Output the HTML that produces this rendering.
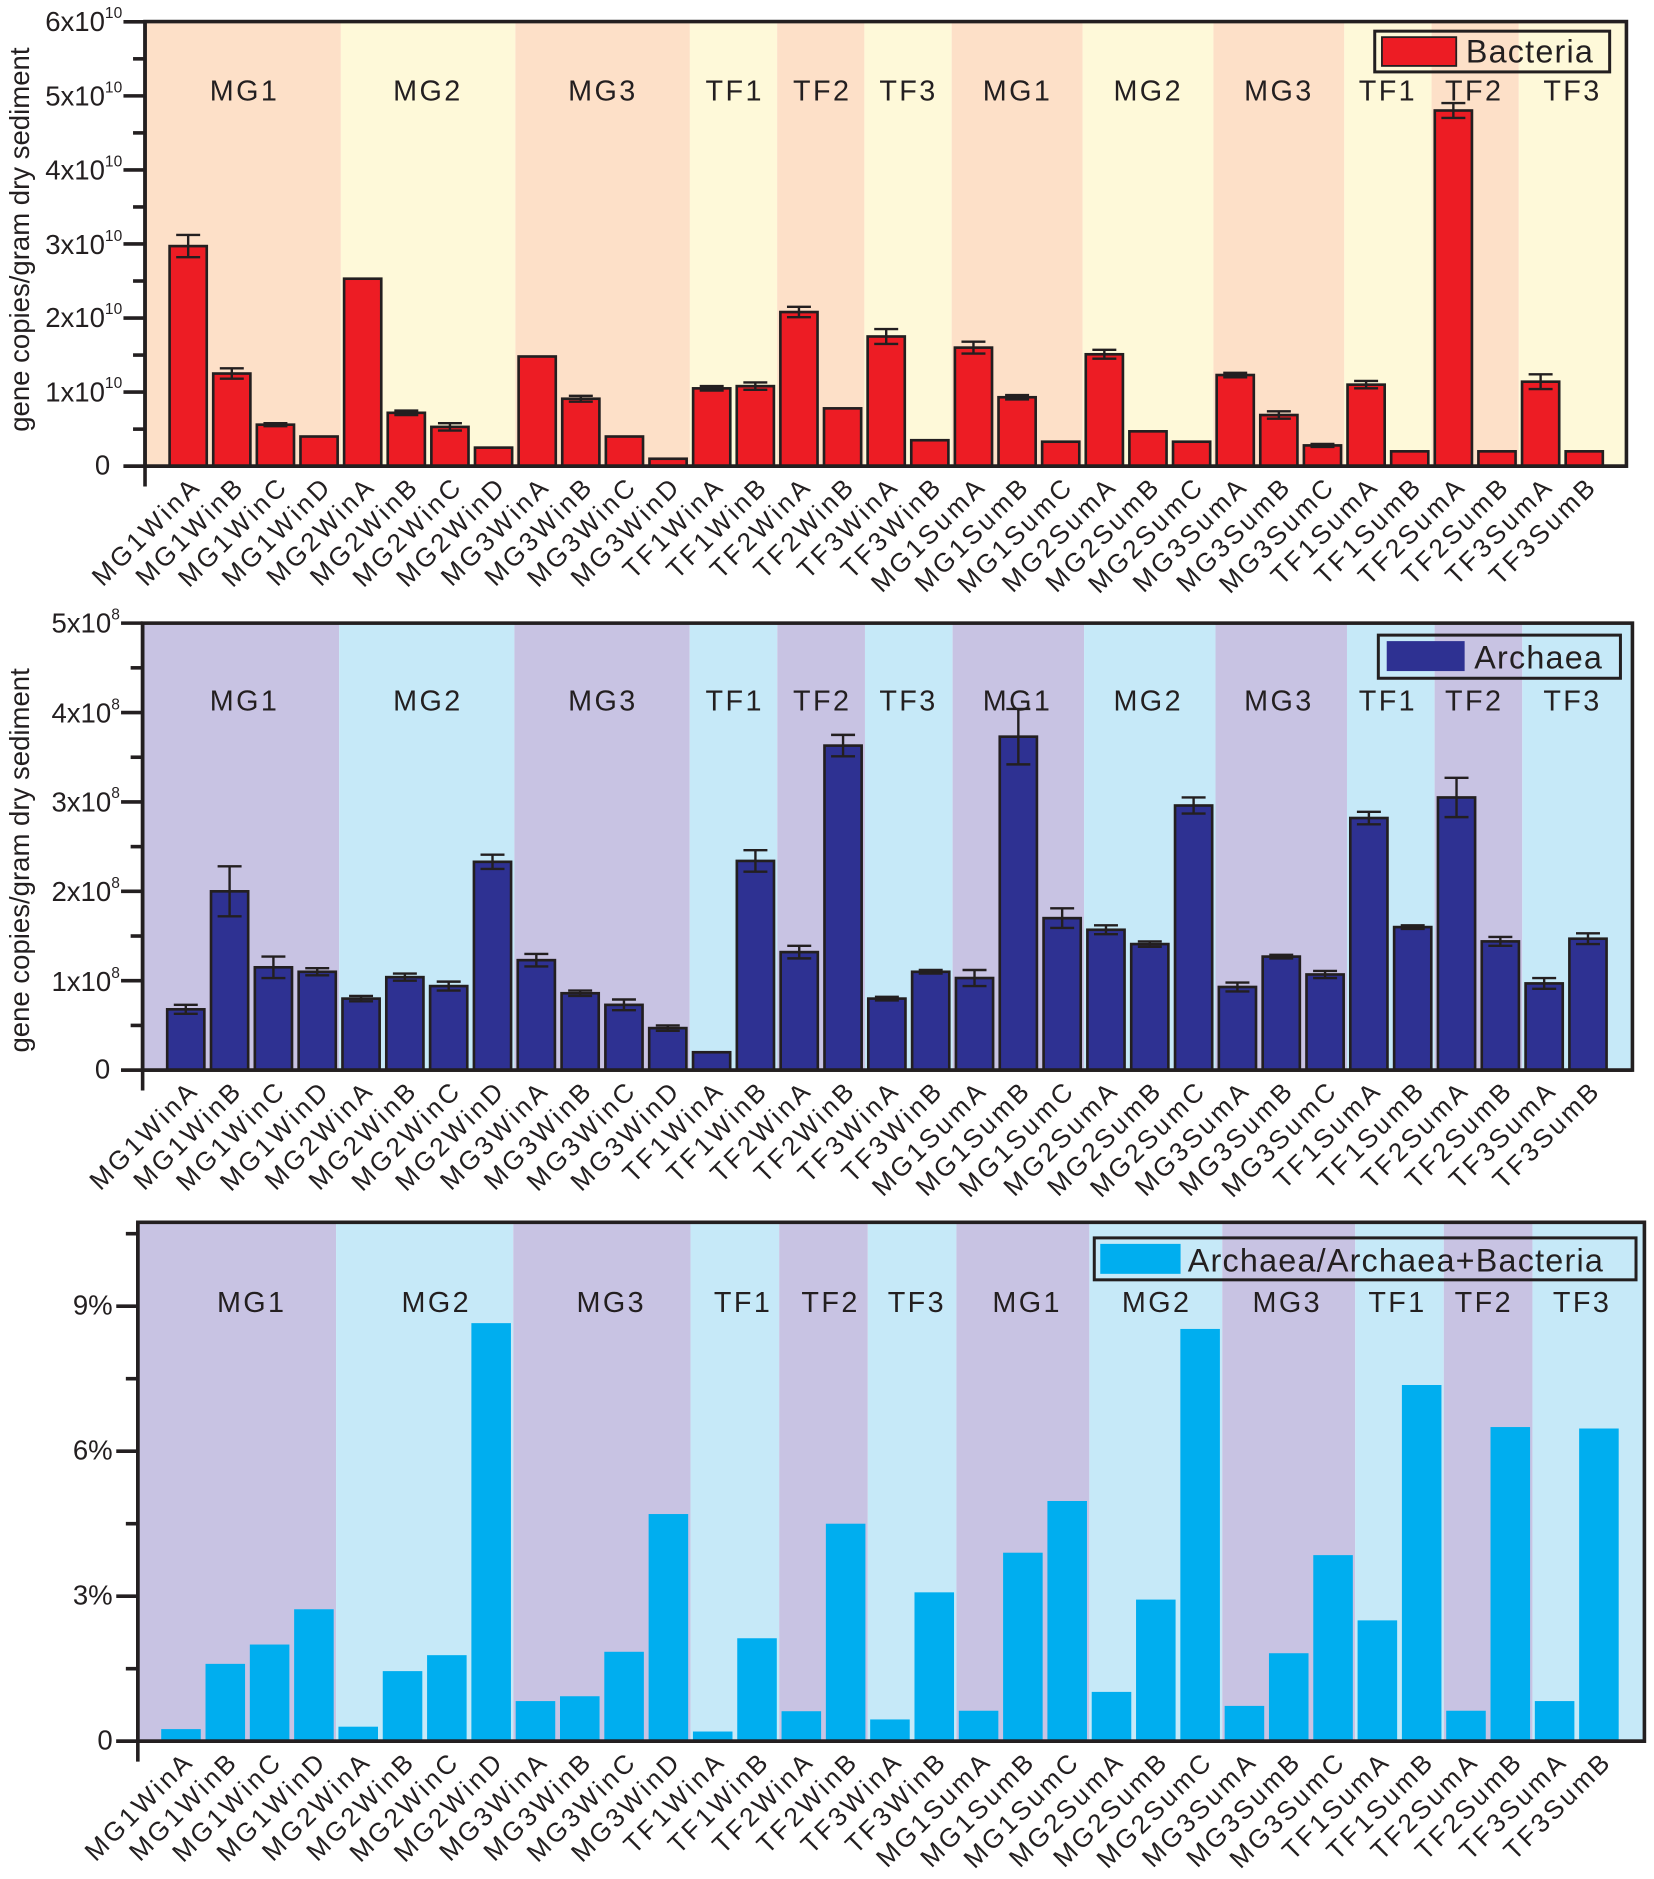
<!DOCTYPE html>
<html><head><meta charset="utf-8"><style>
html,body{margin:0;padding:0;background:#fff}
svg{display:block}
text{font-family:"Liberation Sans",Arial,sans-serif;fill:#231f20}
.g{font-size:24px;letter-spacing:2px;text-anchor:middle}
.x{font-size:22px;letter-spacing:2.5px;text-anchor:end}
.t{font-size:23px;text-anchor:end}
.s{font-size:13px}
</style></head><body>
<svg id="s" width="1654" height="1879" viewBox="0 0 1380 1568" preserveAspectRatio="none" xmlns="http://www.w3.org/2000/svg">
<g id="bg"></g>
<g class="g">
<text x="204" y="84">MG1</text><text x="357" y="84">MG2</text><text x="503" y="84">MG3</text><text x="613" y="84">TF1</text><text x="686" y="84">TF2</text><text x="758" y="84">TF3</text><text x="849" y="84">MG1</text><text x="958" y="84">MG2</text><text x="1067" y="84">MG3</text><text x="1158" y="84">TF1</text><text x="1230" y="84">TF2</text><text x="1312" y="84">TF3</text>
<text x="204" y="593">MG1</text><text x="357" y="593">MG2</text><text x="503" y="593">MG3</text><text x="613" y="593">TF1</text><text x="686" y="593">TF2</text><text x="758" y="593">TF3</text><text x="849" y="593">MG1</text><text x="958" y="593">MG2</text><text x="1067" y="593">MG3</text><text x="1158" y="593">TF1</text><text x="1230" y="593">TF2</text><text x="1312" y="593">TF3</text>
<text x="210" y="1095">MG1</text><text x="364" y="1095">MG2</text><text x="510" y="1095">MG3</text><text x="620" y="1095">TF1</text><text x="693" y="1095">TF2</text><text x="765" y="1095">TF3</text><text x="857" y="1095">MG1</text><text x="965" y="1095">MG2</text><text x="1074" y="1095">MG3</text><text x="1166" y="1095">TF1</text><text x="1238" y="1095">TF2</text><text x="1320" y="1095">TF3</text>
</g>
<g class="t">
<text x="102" y="26">6x10<tspan class="s" dy="-11">10</tspan></text>
<text x="102" y="88">5x10<tspan class="s" dy="-11">10</tspan></text>
<text x="102" y="150">4x10<tspan class="s" dy="-11">10</tspan></text>
<text x="102" y="212">3x10<tspan class="s" dy="-11">10</tspan></text>
<text x="102" y="273">2x10<tspan class="s" dy="-11">10</tspan></text>
<text x="102" y="335">1x10<tspan class="s" dy="-11">10</tspan></text>
<text x="92" y="396">0</text>
<text x="100" y="528">5x10<tspan class="s" dy="-11">8</tspan></text>
<text x="100" y="603">4x10<tspan class="s" dy="-11">8</tspan></text>
<text x="100" y="677">3x10<tspan class="s" dy="-11">8</tspan></text>
<text x="100" y="752">2x10<tspan class="s" dy="-11">8</tspan></text>
<text x="100" y="827">1x10<tspan class="s" dy="-11">8</tspan></text>
<text x="92" y="900">0</text>
<text x="94" y="1097">9%</text>
<text x="94" y="1218">6%</text>
<text x="94" y="1339">3%</text>
<text x="94" y="1460">0</text>
</g>
<text transform="translate(24,200) rotate(-90)" style="font-size:23px;text-anchor:middle">gene copies/gram dry sediment</text>
<text transform="translate(24,718) rotate(-90)" style="font-size:23px;text-anchor:middle">gene copies/gram dry sediment</text>
<rect x="1147" y="26" width="196" height="34" fill="none" stroke="#231f20" stroke-width="2.5"/>
<rect x="1153" y="31" width="62" height="24" fill="#ed1c24" stroke="#231f20" stroke-width="1.5"/>
<text x="1223" y="52" style="font-size:27px;letter-spacing:1px">Bacteria</text>
<rect x="1150" y="530" width="202" height="36" fill="none" stroke="#231f20" stroke-width="2.5"/>
<rect x="1157" y="535" width="65" height="25" fill="#2e3192"/>
<text x="1230" y="558" style="font-size:27px;letter-spacing:1px">Archaea</text>
<rect x="913" y="1033" width="452" height="35" fill="none" stroke="#231f20" stroke-width="2.5"/>
<rect x="918" y="1038" width="67" height="25" fill="#00aeef"/>
<text x="991" y="1061" style="font-size:27px;letter-spacing:1px">Archaea/Archaea+Bacteria</text>
<g class="x" transform="translate(169,407)">
<text transform="translate(0,0) rotate(-45)">MG1WinA</text><text transform="translate(36.4,0) rotate(-45)">MG1WinB</text><text transform="translate(72.8,0) rotate(-45)">MG1WinC</text><text transform="translate(109.2,0) rotate(-45)">MG1WinD</text><text transform="translate(145.6,0) rotate(-45)">MG2WinA</text><text transform="translate(182,0) rotate(-45)">MG2WinB</text><text transform="translate(218.4,0) rotate(-45)">MG2WinC</text><text transform="translate(254.8,0) rotate(-45)">MG2WinD</text><text transform="translate(291.2,0) rotate(-45)">MG3WinA</text><text transform="translate(327.6,0) rotate(-45)">MG3WinB</text><text transform="translate(364,0) rotate(-45)">MG3WinC</text><text transform="translate(400.4,0) rotate(-45)">MG3WinD</text><text transform="translate(436.8,0) rotate(-45)">TF1WinA</text><text transform="translate(473.2,0) rotate(-45)">TF1WinB</text><text transform="translate(509.6,0) rotate(-45)">TF2WinA</text><text transform="translate(546,0) rotate(-45)">TF2WinB</text><text transform="translate(582.4,0) rotate(-45)">TF3WinA</text><text transform="translate(618.8,0) rotate(-45)">TF3WinB</text><text transform="translate(655.2,0) rotate(-45)">MG1SumA</text><text transform="translate(691.6,0) rotate(-45)">MG1SumB</text><text transform="translate(728,0) rotate(-45)">MG1SumC</text><text transform="translate(764.4,0) rotate(-45)">MG2SumA</text><text transform="translate(800.8,0) rotate(-45)">MG2SumB</text><text transform="translate(837.2,0) rotate(-45)">MG2SumC</text><text transform="translate(873.6,0) rotate(-45)">MG3SumA</text><text transform="translate(910,0) rotate(-45)">MG3SumB</text><text transform="translate(946.4,0) rotate(-45)">MG3SumC</text><text transform="translate(982.8,0) rotate(-45)">TF1SumA</text><text transform="translate(1019.2,0) rotate(-45)">TF1SumB</text><text transform="translate(1055.6,0) rotate(-45)">TF2SumA</text><text transform="translate(1092,0) rotate(-45)">TF2SumB</text><text transform="translate(1128.4,0) rotate(-45)">TF3SumA</text><text transform="translate(1164.8,0) rotate(-45)">TF3SumB</text>
</g>
<g class="x" transform="translate(167,911)">
<text transform="translate(0,0) rotate(-45)">MG1WinA</text><text transform="translate(36.6,0) rotate(-45)">MG1WinB</text><text transform="translate(73.1,0) rotate(-45)">MG1WinC</text><text transform="translate(109.7,0) rotate(-45)">MG1WinD</text><text transform="translate(146.2,0) rotate(-45)">MG2WinA</text><text transform="translate(182.8,0) rotate(-45)">MG2WinB</text><text transform="translate(219.4,0) rotate(-45)">MG2WinC</text><text transform="translate(255.9,0) rotate(-45)">MG2WinD</text><text transform="translate(292.5,0) rotate(-45)">MG3WinA</text><text transform="translate(329,0) rotate(-45)">MG3WinB</text><text transform="translate(365.6,0) rotate(-45)">MG3WinC</text><text transform="translate(402.2,0) rotate(-45)">MG3WinD</text><text transform="translate(438.7,0) rotate(-45)">TF1WinA</text><text transform="translate(475.3,0) rotate(-45)">TF1WinB</text><text transform="translate(511.8,0) rotate(-45)">TF2WinA</text><text transform="translate(548.4,0) rotate(-45)">TF2WinB</text><text transform="translate(585,0) rotate(-45)">TF3WinA</text><text transform="translate(621.5,0) rotate(-45)">TF3WinB</text><text transform="translate(658.1,0) rotate(-45)">MG1SumA</text><text transform="translate(694.6,0) rotate(-45)">MG1SumB</text><text transform="translate(731.2,0) rotate(-45)">MG1SumC</text><text transform="translate(767.8,0) rotate(-45)">MG2SumA</text><text transform="translate(804.3,0) rotate(-45)">MG2SumB</text><text transform="translate(840.9,0) rotate(-45)">MG2SumC</text><text transform="translate(877.4,0) rotate(-45)">MG3SumA</text><text transform="translate(914,0) rotate(-45)">MG3SumB</text><text transform="translate(950.6,0) rotate(-45)">MG3SumC</text><text transform="translate(987.1,0) rotate(-45)">TF1SumA</text><text transform="translate(1023.7,0) rotate(-45)">TF1SumB</text><text transform="translate(1060.2,0) rotate(-45)">TF2SumA</text><text transform="translate(1096.8,0) rotate(-45)">TF2SumB</text><text transform="translate(1133.4,0) rotate(-45)">TF3SumA</text><text transform="translate(1169.9,0) rotate(-45)">TF3SumB</text>
</g>
<g class="x" transform="translate(163,1471)">
<text transform="translate(0,0) rotate(-45)">MG1WinA</text><text transform="translate(37,0) rotate(-45)">MG1WinB</text><text transform="translate(73.9,0) rotate(-45)">MG1WinC</text><text transform="translate(110.9,0) rotate(-45)">MG1WinD</text><text transform="translate(147.9,0) rotate(-45)">MG2WinA</text><text transform="translate(184.9,0) rotate(-45)">MG2WinB</text><text transform="translate(221.8,0) rotate(-45)">MG2WinC</text><text transform="translate(258.8,0) rotate(-45)">MG2WinD</text><text transform="translate(295.8,0) rotate(-45)">MG3WinA</text><text transform="translate(332.7,0) rotate(-45)">MG3WinB</text><text transform="translate(369.7,0) rotate(-45)">MG3WinC</text><text transform="translate(406.7,0) rotate(-45)">MG3WinD</text><text transform="translate(443.6,0) rotate(-45)">TF1WinA</text><text transform="translate(480.6,0) rotate(-45)">TF1WinB</text><text transform="translate(517.6,0) rotate(-45)">TF2WinA</text><text transform="translate(554.6,0) rotate(-45)">TF2WinB</text><text transform="translate(591.5,0) rotate(-45)">TF3WinA</text><text transform="translate(628.5,0) rotate(-45)">TF3WinB</text><text transform="translate(665.5,0) rotate(-45)">MG1SumA</text><text transform="translate(702.4,0) rotate(-45)">MG1SumB</text><text transform="translate(739.4,0) rotate(-45)">MG1SumC</text><text transform="translate(776.4,0) rotate(-45)">MG2SumA</text><text transform="translate(813.3,0) rotate(-45)">MG2SumB</text><text transform="translate(850.3,0) rotate(-45)">MG2SumC</text><text transform="translate(887.3,0) rotate(-45)">MG3SumA</text><text transform="translate(924.3,0) rotate(-45)">MG3SumB</text><text transform="translate(961.2,0) rotate(-45)">MG3SumC</text><text transform="translate(998.2,0) rotate(-45)">TF1SumA</text><text transform="translate(1035.2,0) rotate(-45)">TF1SumB</text><text transform="translate(1072.1,0) rotate(-45)">TF2SumA</text><text transform="translate(1109.1,0) rotate(-45)">TF2SumB</text><text transform="translate(1146.1,0) rotate(-45)">TF3SumA</text><text transform="translate(1183,0) rotate(-45)">TF3SumB</text>
</g>
</svg>
<script>
var NS="http://www.w3.org/2000/svg",bg=document.getElementById("bg");
function el(t,a){var e=document.createElementNS(NS,t);for(var k in a)e.setAttribute(k,a[k]);bg.appendChild(e);return e;}
var groups=[4,4,4,2,2,2,3,3,3,2,2,2];
function panel(c){
  var L=c.L,R=c.R,T=c.T,B=c.B,x0=c.x0,st=c.st;
  var idx=0,prev=L;
  for(var g=0;g<groups.length;g++){
    idx+=groups[g];
    var nx=(g==groups.length-1)?R:x0+st*(idx-0.5);
    el("rect",{x:prev,y:T,width:nx-prev,height:B-T,fill:g%2?c.c2:c.c1});
    prev=nx;
  }
  for(var i=0;i<c.v.length;i++){
    var cx=x0+st*i,h=c.v[i]*c.k,w=c.bw;
    var a={x:cx-w/2,y:B-h,width:w,height:h,fill:c.col};
    if(c.ol){a.stroke="#231f20";a["stroke-width"]=2.2;}
    el("rect",a);
    if(c.e&&c.e[i]>0){
      var e=c.e[i]*c.k,y1=B-h-e,y2=B-h+e;
      el("path",{d:"M"+cx+" "+y1+"V"+y2+"M"+(cx-10)+" "+y1+"h20M"+(cx-10)+" "+y2+"h20",stroke:"#231f20","stroke-width":2,fill:"none"});
    }
  }
  el("rect",{x:L,y:T,width:R-L,height:B-T,fill:"none",stroke:"#231f20","stroke-width":3});
  el("path",{d:"M"+L+" "+T+"V"+(B+17)+"M"+(L-18)+" "+B+"H"+R,stroke:"#231f20","stroke-width":3,fill:"none"});
  for(var j=0;j<c.ticks.length;j++){
    var y=c.ticks[j][0],len=c.ticks[j][1];
    el("path",{d:"M"+(L-len)+" "+y+"H"+L,stroke:"#231f20","stroke-width":3});
  }
}
var t1=[],t2=[],t3=[];
for(var i=0;i<=12;i++)t1.push([389-i*30.9,i%2?10:18]);
for(var i=0;i<=10;i++)t2.push([893-i*37.3,i%2?10:18]);
for(var i=0;i<=7;i++)t3.push([1453-i*60.5,i%2?10:18]);
panel({L:121,R:1357,T:18,B:389,x0:157,st:36.4,bw:31,ol:1,col:"#ed1c24",c1:"#fde0c8",c2:"#fef9d9",k:61.83,ticks:t1,
v:[2.97,1.25,0.56,0.4,2.53,0.72,0.53,0.25,1.48,0.91,0.4,0.1,1.05,1.08,2.08,0.78,1.75,0.35,1.6,0.93,0.33,1.51,0.47,0.33,1.23,0.69,0.28,1.1,0.2,4.8,0.2,1.14,0.2],
e:[0.15,0.07,0.02,0,0,0.03,0.05,0,0,0.04,0,0,0.03,0.05,0.07,0,0.1,0,0.08,0.03,0,0.06,0,0,0.03,0.05,0.02,0.05,0,0.1,0,0.1,0]});
panel({L:119,R:1362,T:520,B:893,x0:155,st:36.56,bw:31,ol:1,col:"#2e3192",c1:"#c8c3e3",c2:"#c6e9f8",k:74.6,ticks:t2,
v:[0.68,2.0,1.15,1.1,0.8,1.04,0.94,2.33,1.23,0.86,0.73,0.47,0.2,2.34,1.32,3.63,0.8,1.1,1.03,3.73,1.7,1.57,1.41,2.96,0.93,1.27,1.07,2.82,1.6,3.05,1.44,0.97,1.47],
e:[0.05,0.28,0.12,0.04,0.03,0.04,0.05,0.08,0.07,0.03,0.06,0.03,0,0.12,0.07,0.12,0.02,0.02,0.09,0.31,0.11,0.05,0.03,0.09,0.05,0.02,0.04,0.07,0.02,0.22,0.05,0.06,0.06]});
panel({L:115,R:1372,T:1020,B:1453,x0:151,st:36.97,bw:33,ol:0,col:"#00aeef",c1:"#c8c3e3",c2:"#c6e9f8",k:40.33,ticks:t3,
v:[0.25,1.6,2.0,2.73,0.3,1.45,1.78,8.65,0.83,0.93,1.85,4.7,0.2,2.13,0.62,4.5,0.45,3.08,0.63,3.9,4.97,1.02,2.93,8.53,0.73,1.82,3.85,2.5,7.37,0.63,6.5,0.83,6.47]});
</script>
</body></html>
